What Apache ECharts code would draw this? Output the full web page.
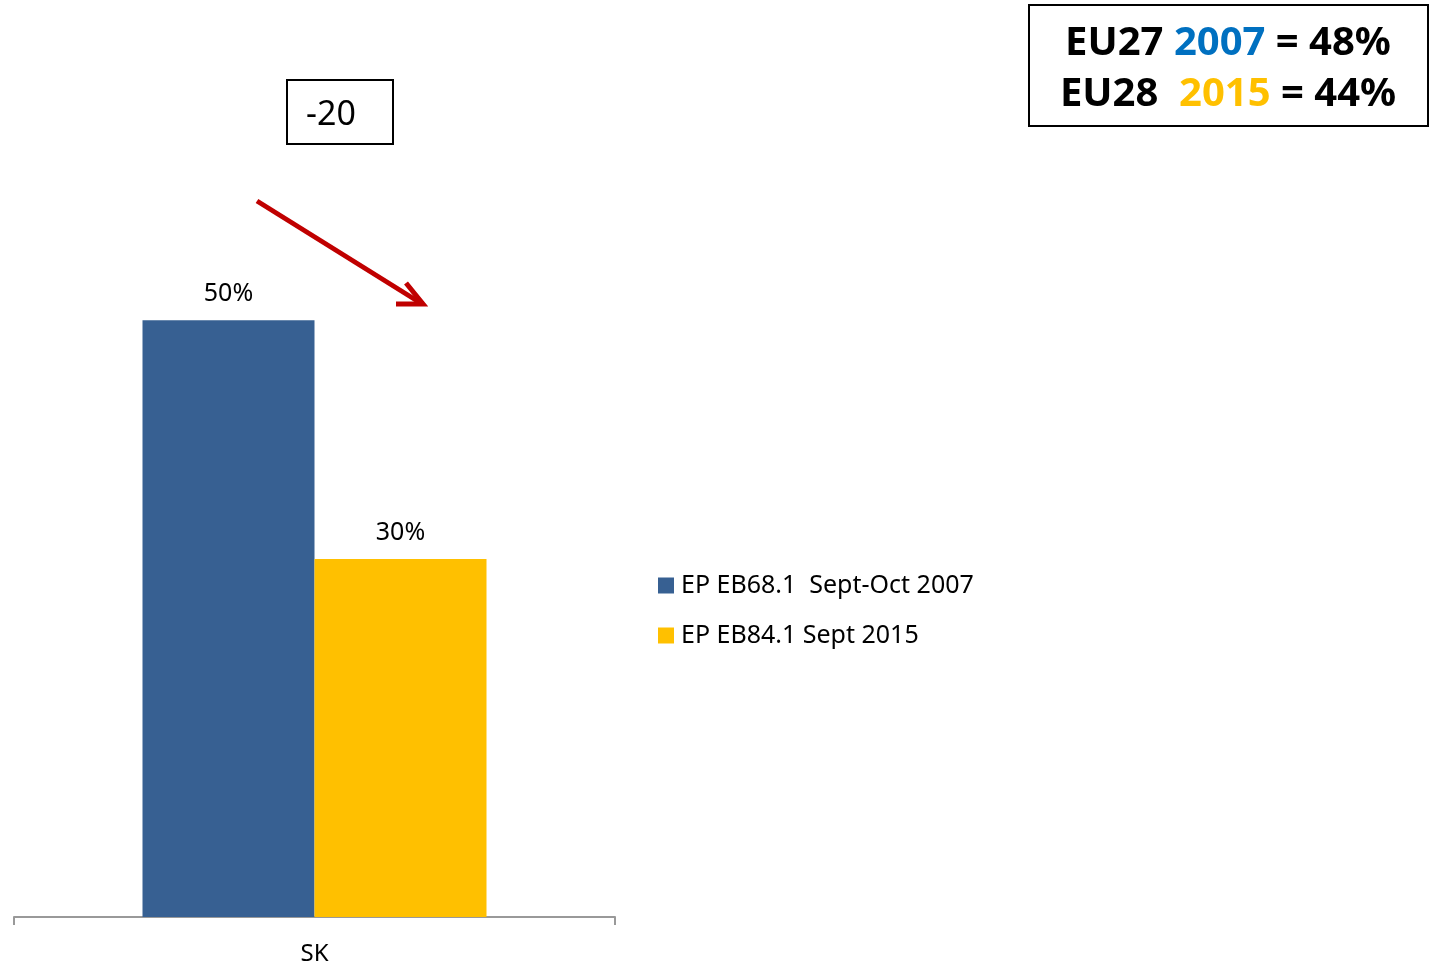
<!DOCTYPE html>
<html>
<head>
<meta charset="utf-8">
<script src="https://cdn.jsdelivr.net/npm/echarts@6/dist/echarts.min.js"></script>
<style>
  html, body { margin: 0; padding: 0; background: #fff; }
  #chart { width: 1432px; height: 966px; }
</style>
</head>
<body>
<div id="chart"></div>
<script>
const categories = ["SK"];
const seriesNames = ["EP EB68.1  Sept-Oct 2007", "EP EB84.1 Sept 2015"];
const values2007 = [50];
const values2015 = [30];
const changeLabel = "-20";

const FONT = "Noto Sans";

const renderChart = () => {
  var myChart = echarts.init(document.getElementById("chart"));
  var option = {
    animation: false,
    grid: { left: 14, right: 817, top: 201, bottom: 48 },
    legend: {
      orient: "vertical",
      left: 653,
      top: 568,
      itemWidth: 16,
      itemHeight: 16,
      itemGap: 25,
      icon: "rect",
      textStyle: { fontFamily: FONT, fontSize: 25, color: "#000", padding: [0, 0, 0, 2] },
      data: seriesNames,
    },
    xAxis: {
      type: "category",
      data: categories,
      axisLine: { lineStyle: { color: "#999", width: 2 } },
      axisTick: { show: true, length: 8, lineStyle: { color: "#999", width: 2 } },
      axisLabel: { fontFamily: FONT, fontSize: 24, color: "#000", margin: 25 },
    },
    yAxis: {
      type: "value",
      min: 0,
      max: 60,
      show: false,
      splitLine: { show: false },
    },
    series: [
      {
        name: seriesNames[0],
        type: "bar",
        data: values2007,
        barWidth: 172,
        barGap: "0%",
        itemStyle: { color: "#376092" },
        label: {
          show: true,
          position: "top",
          distance: 14,
          formatter: "{c}%",
          fontFamily: FONT,
          fontSize: 25,
          color: "#000",
        },
      },
      {
        name: seriesNames[1],
        type: "bar",
        data: values2015,
        barWidth: 172,
        itemStyle: { color: "#FFC000" },
        label: {
          show: true,
          position: "top",
          distance: 14,
          formatter: "{c}%",
          fontFamily: FONT,
          fontSize: 25,
          color: "#000",
        },
      },
    ],
    graphic: [
      // EU summary box
      {
        type: "rect",
        shape: { x: 1029, y: 5, width: 399, height: 121 },
        style: { fill: "#fff", stroke: "#000", lineWidth: 2 },
      },
      {
        type: "text",
        x: 1228,
        y: 44,
        style: {
          text: "{k|EU27 }{b|2007}{k| = 48%}",
          align: "center",
          verticalAlign: "middle",
          rich: {
            k: { fontFamily: FONT, fontWeight: "bold", fontSize: 40, fill: "#000" },
            b: { fontFamily: FONT, fontWeight: "bold", fontSize: 40, fill: "#0070C0" },
          },
        },
      },
      {
        type: "text",
        x: 1228,
        y: 95,
        style: {
          text: "{k|EU28  }{y|2015}{k| = 44%}",
          align: "center",
          verticalAlign: "middle",
          rich: {
            k: { fontFamily: FONT, fontWeight: "bold", fontSize: 40, fill: "#000" },
            y: { fontFamily: FONT, fontWeight: "bold", fontSize: 40, fill: "#FFC000" },
          },
        },
      },
      // change box
      {
        type: "rect",
        shape: { x: 287, y: 80, width: 106, height: 64 },
        style: { fill: "#fff", stroke: "#000", lineWidth: 2 },
      },
      {
        type: "text",
        x: 331,
        y: 115,
        style: {
          text: changeLabel,
          align: "center",
          verticalAlign: "middle",
          fontFamily: FONT,
          fontSize: 34,
          fill: "#000",
        },
      },
      // red arrow
      {
        type: "line",
        shape: { x1: 257, y1: 201, x2: 419, y2: 302 },
        style: { stroke: "#C00000", lineWidth: 5 },
      },
      {
        type: "polyline",
        shape: { points: [[406, 283], [423, 304], [396, 304]] },
        style: { stroke: "#C00000", lineWidth: 5, fill: null, lineJoin: "miter" },
      },
    ],
  };
  myChart.setOption(option);
};

document.addEventListener("DOMContentLoaded", function () {
  renderChart();
});
</script>
</body>
</html>
